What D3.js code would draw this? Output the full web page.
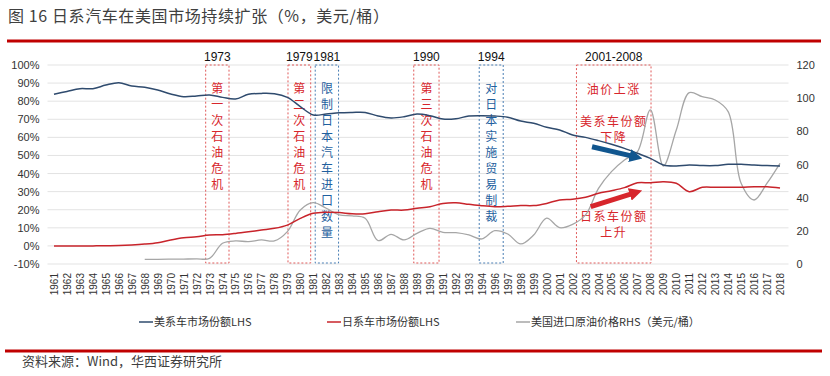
<!DOCTYPE html>
<html lang="zh">

<head>
	<meta charset="utf-8">
	<script src='https://d3js.org/d3.v7.min.js'></script>
	<style>
		body { margin: 0; background: #fff; }
		text { font-family: "Liberation Sans", Arial, "Noto Sans CJK SC", sans-serif; }
		.cjk { font-family: "Noto Sans CJK SC", sans-serif; }
	</style>
</head>

<body>
	<script>
    // Chart data (1995 is absent from the source axis)
    const years = ["1961","1962","1963","1964","1965","1966","1967","1968","1969","1970",
      "1971","1972","1973","1974","1975","1976","1977","1978","1979","1980",
      "1981","1982","1983","1984","1985","1986","1987","1988","1989","1990",
      "1991","1992","1993","1994","1996","1997","1998","1999","2000","2001",
      "2002","2003","2004","2005","2006","2007","2008","2009","2010","2011",
      "2012","2013","2014","2015","2016","2017","2018"];
    // US brand market share, %
    const usShare = [83.8,85.4,86.9,86.9,88.9,90.2,88.4,87.7,86.2,84.0,
      82.5,82.9,83.4,82.1,81.2,83.8,84.3,84.1,82.1,77.0,
      72.4,72.9,73.6,73.8,73.8,71.8,70.7,71.4,72.9,72.0,
      70.1,70.3,71.8,72.0,71.8,71.1,69.0,67.8,65.6,64.1,
      61.3,60.0,58.2,56.2,53.9,51.2,48.4,44.7,44.2,44.7,
      44.4,44.4,45.1,45.1,44.7,44.4,44.2];
    // Japanese brand market share, %
    const jpShare = [0,0,0,0,0.1,0.2,0.5,1.0,1.8,3.3,
      4.5,5.1,6.0,6.2,6.9,7.8,8.8,9.7,11.5,15.2,
      18.0,18.6,18.4,17.8,17.8,18.9,19.8,19.8,20.8,21.7,
      23.5,23.9,23.0,22.2,21.7,21.9,22.3,22.3,23.5,25.4,
      25.8,26.9,29.1,30.5,32.2,34.9,34.9,35.5,34.6,30.0,
      32.4,32.4,32.4,32.4,32.7,32.7,32.0];
    // US imported crude price, USD/bbl (starts 1968)
    const oilPrice = [null,null,null,null,null,null,null,2.8,2.8,2.9,
      3.0,3.1,3.4,12.5,13.9,13.5,14.5,13.9,19.5,32.6,
      37.0,33.6,29.6,29.0,27.6,14.1,17.9,14.5,18.5,21.5,
      19.1,18.9,17.5,15.1,20.1,18.1,12.1,17.5,27.6,21.9,
      23.9,29.6,45.6,55.7,62.7,67.7,92.9,59.1,80.8,103.3,
      100.9,98.9,91.9,48.7,38.6,48.7,60.7];
    const leftTicks = [-10,0,10,20,30,40,50,60,70,80,90,100];
    const rightTicks = [0,20,40,60,80,100,120];

    const width = 830, height = 376;
    const plotL = 47.5, plotR = 786.5, plotT = 65, plotB = 264;

    const svg = d3.select("body").append("svg")
      .attr("width", width).attr("height", height);

    // Title and rules
    svg.append("text").attr("class", "cjk")
      .attr("x", 8).attr("y", 22)
      .attr("font-size", 16).attr("letter-spacing", 0.6).attr("fill", "#404040")
      .text("图 16 日系汽车在美国市场持续扩张（%，美元/桶）");
    svg.append("line").attr("x1", 7).attr("x2", 821).attr("y1", 41).attr("y2", 41)
      .attr("stroke", "#c00000").attr("stroke-width", 3);
    svg.append("line").attr("x1", 5).attr("x2", 822).attr("y1", 351).attr("y2", 351)
      .attr("stroke", "#c00000").attr("stroke-width", 3);
    svg.append("text").attr("class", "cjk")
      .attr("x", 22).attr("y", 366)
      .attr("font-size", 13).attr("fill", "#404040")
      .text("资料来源：Wind，华西证券研究所");

    // Scales
    const x = d3.scalePoint().domain(years).range([plotL, plotR]).padding(0.5);
    const xi = d3.scaleLinear().domain([0, years.length - 1]).range([x(years[0]), x(years[years.length - 1])]);
    const yL = d3.scaleLinear().domain([-10, 100]).range([plotB, plotT]);
    const yR = d3.scaleLinear().domain([0, 120]).range([plotB, plotT]);

    // Gridlines
    svg.append("g").selectAll("line").data(leftTicks).enter().append("line")
      .attr("x1", plotL).attr("x2", plotR + 2)
      .attr("y1", d => yL(d)).attr("y2", d => yL(d))
      .attr("stroke", "#e3e3e3").attr("stroke-width", 1);

    // Left axis
    const gl = svg.append("g").attr("transform", `translate(${plotL},0)`)
      .call(d3.axisLeft(yL).tickValues(leftTicks).tickFormat(d => d + "%").tickSize(0).tickPadding(8));
    gl.select(".domain").remove();
    gl.selectAll("text").attr("font-size", 11).attr("fill", "#333")
      .attr("font-family", "Liberation Sans, Arial, sans-serif");

    // Right axis
    const gr = svg.append("g").attr("transform", `translate(${plotR},0)`)
      .call(d3.axisRight(yR).tickValues(rightTicks).tickSize(0).tickPadding(10));
    gr.select(".domain").remove();
    gr.selectAll("text").attr("font-size", 11).attr("fill", "#333")
      .attr("font-family", "Liberation Sans, Arial, sans-serif");

    // Bottom axis, rotated year labels
    const gx = svg.append("g").attr("transform", `translate(0,${plotB})`)
      .call(d3.axisBottom(x).tickSize(0).tickPadding(0));
    gx.select(".domain").remove();
    gx.selectAll("text")
      .attr("font-size", 10).attr("fill", "#333")
      .attr("font-family", "Liberation Sans, Arial, sans-serif")
      .attr("text-anchor", "end")
      .attr("dy", "0.35em")
      .attr("transform", "translate(0,9) rotate(-90)")
      .attr("x", 0).attr("y", 0);

    // Annotation boxes (positions in category-index units)
    const boxes = [
      {label: "1973", text: "第一次石油危机", a: 11.7, b: 13.5, c: "#e05a5a", tc: "#d7262c"},
      {label: "1979", text: "第二次石油危机", a: 18.05, b: 19.8, c: "#e05a5a", tc: "#d7262c"},
      {label: "1981", text: "限制日本汽车进口数量", a: 20.15, b: 21.95, c: "#4a7fb5", tc: "#1f5f9e"},
      {label: "1990", text: "第三次石油危机", a: 27.75, b: 29.7, c: "#e05a5a", tc: "#d7262c"},
      {label: "1994", text: "对日本实施贸易制裁", a: 32.8, b: 34.65, c: "#4a7fb5", tc: "#1f5f9e"},
      {label: "2001-2008", text: "", a: 40.3, b: 46.05, c: "#e05a5a", tc: "#d7262c"}
    ];
    const bx = svg.append("g");
    boxes.forEach(bd => {
      const x0 = xi(bd.a), x1 = xi(bd.b), cx = (x0 + x1) / 2;
      bx.append("rect").attr("x", x0).attr("y", plotT).attr("width", x1 - x0).attr("height", plotB - plotT - 1)
        .attr("fill", "none").attr("stroke", bd.c).attr("stroke-width", 1).attr("stroke-dasharray", "2,2");
      bx.append("text").attr("x", cx).attr("y", 61).attr("text-anchor", "middle")
        .attr("font-size", 12).attr("fill", "#111").text(bd.label);
      Array.from(bd.text).forEach((ch, k) => {
        bx.append("text").attr("class", "cjk").attr("x", cx).attr("y", 93 + k * 16)
          .attr("text-anchor", "middle").attr("font-size", 12).attr("fill", bd.tc).text(ch);
      });
    });
    const notes = [
      {t: "油价上涨", y: 94}, {t: "美系车份额", y: 126}, {t: "下降", y: 142},
      {t: "日系车份额", y: 221}, {t: "上升", y: 237}
    ];
    const nx = (xi(40.3) + xi(46.05)) / 2;
    bx.selectAll(".note").data(notes).enter().append("text").attr("class", "cjk")
      .attr("x", nx).attr("y", d => d.y).attr("text-anchor", "middle")
      .attr("font-size", 12).attr("letter-spacing", 1.5).attr("fill", "#d7262c").text(d => d.t);

    // Lines
    const line = yS => d3.line()
      .defined(d => d[1] != null)
      .x(d => x(d[0])).y(d => yS(d[1]))
      .curve(d3.curveCatmullRom.alpha(0.5));
    svg.append("path").datum(years.map((y, k) => [y, oilPrice[k]]))
      .attr("fill", "none").attr("stroke", "#a6a6a6").attr("stroke-width", 1.3)
      .attr("d", line(yR));
    svg.append("path").datum(years.map((y, k) => [y, jpShare[k]]))
      .attr("fill", "none").attr("stroke", "#c8242b").attr("stroke-width", 1.5)
      .attr("d", line(yL));
    svg.append("path").datum(years.map((y, k) => [y, usShare[k]]))
      .attr("fill", "none").attr("stroke", "#2f4b6e").attr("stroke-width", 1.5)
      .attr("d", line(yL));

    // Trend arrows
    const defs = svg.append("defs");
    [["ab", "#11568f"], ["ar", "#d7262c"]].forEach(([id, c]) => {
      defs.append("marker").attr("id", id).attr("viewBox", "0 0 10 10")
        .attr("refX", 2).attr("refY", 5).attr("markerWidth", 2.6).attr("markerHeight", 2.6)
        .attr("orient", "auto").append("path").attr("d", "M0,0L10,5L0,10z").attr("fill", c);
    });
    const arrows = [
      {a: 41.5, v0: 54.8, b: 44.6, v1: 49.6, c: "#11568f", m: "ab"},
      {a: 41.4, v0: 21.7, b: 44.6, v1: 28.9, c: "#d7262c", m: "ar"}
    ];
    arrows.forEach(ar => {
      svg.append("line").attr("x1", xi(ar.a)).attr("y1", yL(ar.v0))
        .attr("x2", xi(ar.b)).attr("y2", yL(ar.v1))
        .attr("stroke", ar.c).attr("stroke-width", 5)
        .attr("marker-end", `url(#${ar.m})`);
    });

    // Legend
    const legend = [
      {t: "美系车市场份额LHS", c: "#2f4b6e", x: 139},
      {t: "日系车市场份额LHS", c: "#c8242b", x: 327},
      {t: "美国进口原油价格RHS（美元/桶）", c: "#a6a6a6", x: 516}
    ];
    const lg = svg.append("g");
    legend.forEach(d => {
      lg.append("line").attr("x1", d.x).attr("x2", d.x + 14).attr("y1", 322).attr("y2", 322)
        .attr("stroke", d.c).attr("stroke-width", 1.5);
      lg.append("text").attr("class", "cjk").attr("x", d.x + 15).attr("y", 326)
        .attr("font-size", 11).attr("fill", "#333").text(d.t);
    });
	</script>
</body>

</html>
